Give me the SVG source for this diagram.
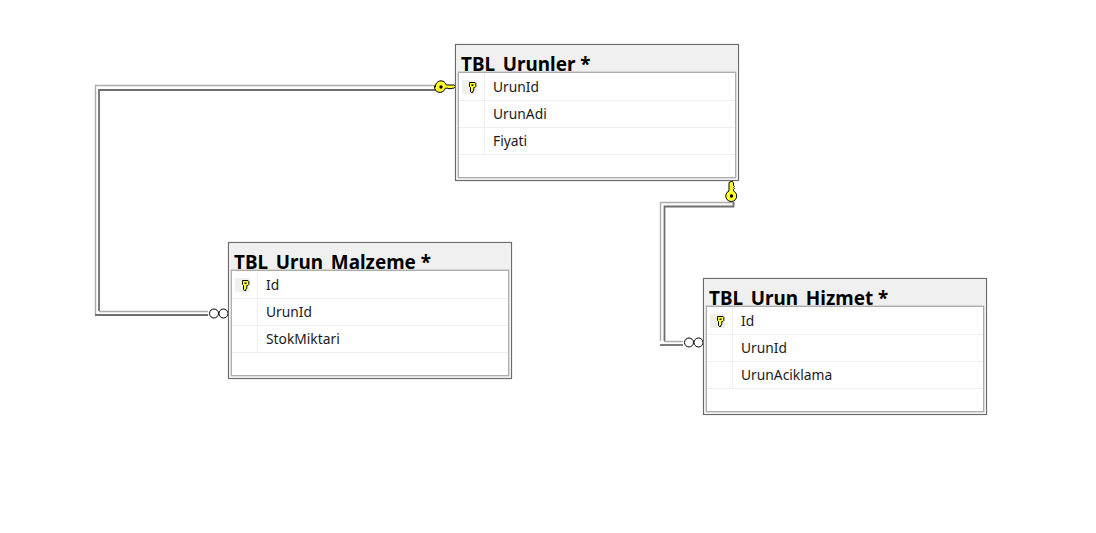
<svg xmlns="http://www.w3.org/2000/svg" width="1096" height="533" viewBox="0 0 1096 533">
<style>
.outer{fill:#fff;stroke:#6a6a6a;stroke-width:1.2}
.head{fill:#f0f0f0}
.inner{fill:#fff;stroke:#adadad;stroke-width:1.4}
.row{stroke:#efefef;stroke-width:1;fill:none}
.title{font:bold 18.9px "Noto Sans","Open Sans","DejaVu Sans",sans-serif;fill:#000}
.cell{font:13.8px "Noto Sans","Open Sans","DejaVu Sans",sans-serif;fill:#1a1a1a}
.lt{stroke:#ababab;stroke-width:1.4;fill:none}
.dk{stroke:#6e6e6e;stroke-width:1.8;fill:none}
.keyy{fill:#ffff2e;stroke:#000;stroke-width:1}
.crow{fill:#fff;stroke:#000;stroke-width:1}
</style>
<defs>
<g id="pk">
<rect x="7" y="8" width="15" height="14" fill="#f0f0f0"/>
<path class="keyy" d="M14.500 10.500h5.500l.8.800v3.200l-1 1h-1v3l-1 .6v1.400h-1.500l-.8-1v-4l-1-1v-3.200z"/>
<rect x="16.500" y="12.500" width="2" height="1.400" fill="#000"/>
</g>
</defs>

<g id="connectors">
<g id="conn-urunler-malzeme">
<path class="lt" d="M436 85.500H95.500V315"/>
<path class="dk" d="M436 90H99V311"/>
<path class="lt" d="M99 311.500H208"/>
<path class="dk" d="M95 315H208"/>
<circle class="crow" cx="214" cy="313.500" r="4.500"/>
<circle class="crow" cx="223.500" cy="313.500" r="4.500"/>
<path class="keyy" d="M435.500 87a5.500 5.500 0 0 1 10.800-2h8.200l1 1.500-1.500 1.700h-2l-1 .8-1-.8-1 .8-1-.8h-2.700a5.500 5.500 0 0 1-10.800-2z"/>
<circle cx="441" cy="87" r="1.700" fill="#000"/>
</g>
<g id="conn-urunler-hizmet">
<path class="lt" d="M733 202.500H660.500V341"/>
<path class="dk" d="M733.500 202V206.500H664.500V341"/>
<path class="lt" d="M664 341.500H683"/>
<path class="dk" d="M660 345H683"/>
<circle class="crow" cx="689" cy="342.500" r="4.500"/>
<circle class="crow" cx="698.500" cy="342.500" r="4.500"/>
<path class="keyy" d="M731 181.500h1.500l1 1.500v2.500l1 1-1 1 1 1-1 1v1.500a5.500 5.500 0 1 1-4.500 0v-8.500z"/>
<circle cx="731.500" cy="196" r="1.700" fill="#000"/>
</g>
</g>

<g id="tbl-urunler" transform="translate(455 44)">
<rect class="outer" x=".5" y=".5" width="283" height="136"/>
<rect class="head" x="1.500" y="1.500" width="281" height="26.500"/>
<text class="title" x="6" y="26.500">TBL_Urunler *</text>
<rect class="inner" x="3.300" y="28.300" width="277.400" height="105.400"/>
<path class="row" d="M4 56.500H280M4 83.500H280M4 110.500H280M29.500 29V110"/>
<use href="#pk" y="28"/>
<text class="cell" x="38" y="48">UrunId</text>
<text class="cell" x="38" y="75">UrunAdi</text>
<text class="cell" x="38" y="102">Fiyati</text>
</g>

<g id="tbl-urun-malzeme" transform="translate(228 242)">
<rect class="outer" x=".5" y=".5" width="283" height="136"/>
<rect class="head" x="1.500" y="1.500" width="281" height="26.500"/>
<text class="title" x="6" y="26.500">TBL_Urun_Malzeme *</text>
<rect class="inner" x="3.300" y="28.300" width="277.400" height="105.400"/>
<path class="row" d="M4 56.500H280M4 83.500H280M4 110.500H280M29.500 29V110"/>
<use href="#pk" y="28"/>
<text class="cell" x="38" y="48">Id</text>
<text class="cell" x="38" y="75">UrunId</text>
<text class="cell" x="38" y="102">StokMiktari</text>
</g>

<g id="tbl-urun-hizmet" transform="translate(703 278)">
<rect class="outer" x=".5" y=".5" width="283" height="136"/>
<rect class="head" x="1.500" y="1.500" width="281" height="26.500"/>
<text class="title" x="6" y="26.500">TBL_Urun_Hizmet *</text>
<rect class="inner" x="3.300" y="28.300" width="277.400" height="105.400"/>
<path class="row" d="M4 56.500H280M4 83.500H280M4 110.500H280M29.500 29V110"/>
<use href="#pk" y="28"/>
<text class="cell" x="38" y="48">Id</text>
<text class="cell" x="38" y="75">UrunId</text>
<text class="cell" x="38" y="102">UrunAciklama</text>
</g>
</svg>
